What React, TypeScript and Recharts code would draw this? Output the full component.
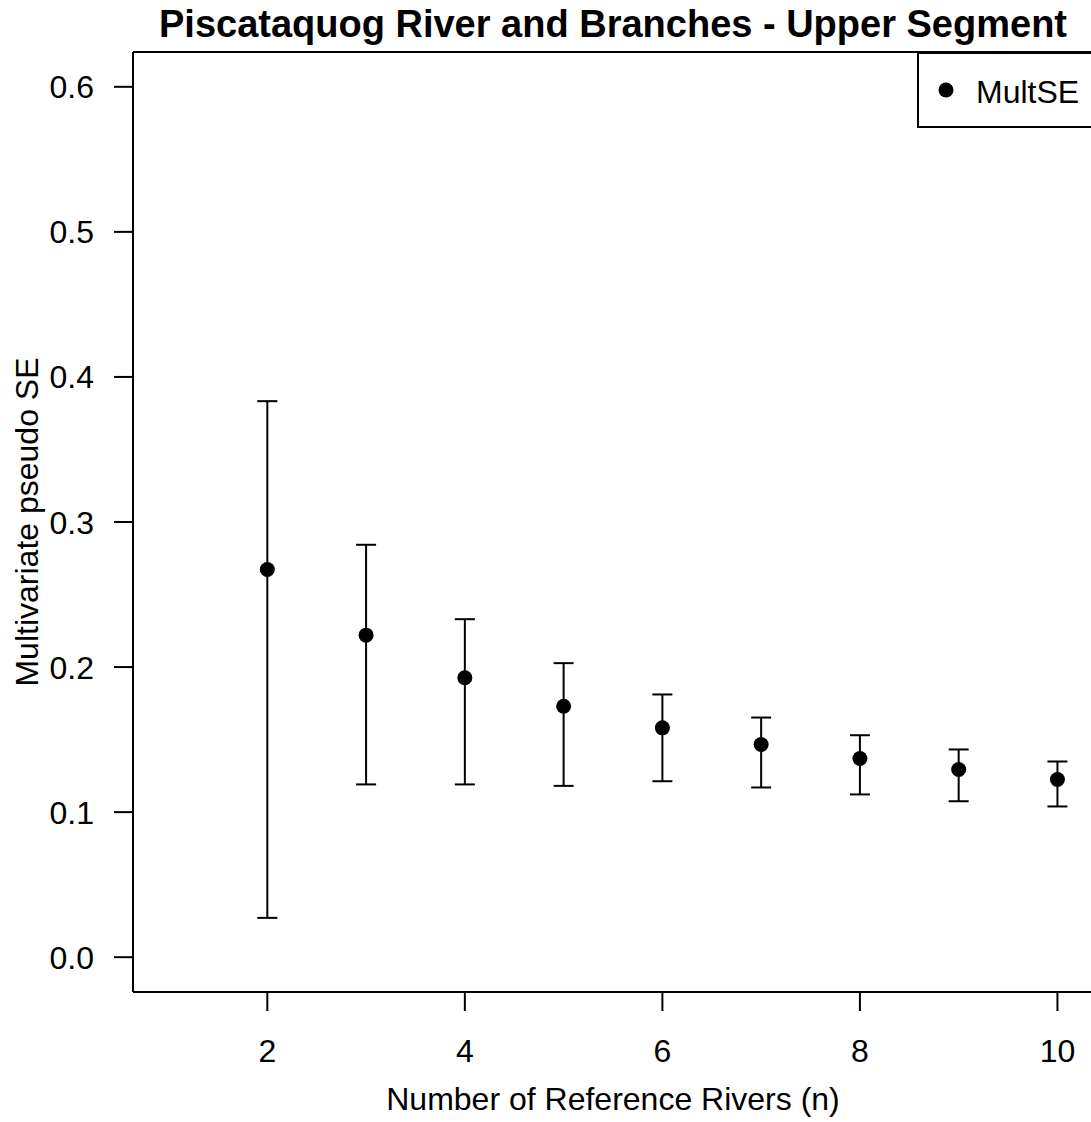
import React from 'react';
import {
  ComposedChart,
  Scatter,
  ErrorBar,
  XAxis,
  YAxis,
  Legend,
  ReferenceLine,
  Label,
} from 'recharts';

// values
const nRivers = [2, 3, 4, 5, 6, 7, 8, 9, 10];
const meanSE = [0.2673, 0.222, 0.1926, 0.173, 0.1581, 0.1466, 0.137, 0.1294, 0.1225];
const lowerSE = [0.0271, 0.1191, 0.1191, 0.1181, 0.1213, 0.117, 0.1122, 0.1075, 0.1039];
const upperSE = [0.3833, 0.2843, 0.233, 0.2027, 0.1811, 0.1652, 0.153, 0.1432, 0.1349];

const xTicks = [2, 4, 6, 8, 10];
const yTicks = [0, 0.1, 0.2, 0.3, 0.4, 0.5, 0.6];

const TITLE = 'Piscataquog River and Branches - Upper Segment';
const X_LABEL = 'Number of Reference Rivers (n)';
const Y_LABEL = 'Multivariate pseudo SE';
const SERIES_NAME = 'MultSE';

// R-style 4% padding around data range
const X_DOMAIN = [0.64, 10.36];
const Y_DOMAIN = [-0.024, 0.624];

const FONT = '"Liberation Sans", Arial, Helvetica, sans-serif';
const BLACK = '#000000';

const data = nRivers.map((n, i) => ({
  n,
  se: meanSE[i],
  err: [meanSE[i] - lowerSE[i], upperSE[i] - meanSE[i]],
}));

const XTick = (props: any) => {
  const { x, y, payload } = props;
  return (
    <text x={x} y={y + 51} textAnchor="middle" fontSize={32} fontFamily={FONT} fill={BLACK}>
      {payload.value}
    </text>
  );
};

const YTick = (props: any) => {
  const { x, y, payload } = props;
  return (
    <text x={x - 20} y={y + 11.5} textAnchor="end" fontSize={32} fontFamily={FONT} fill={BLACK}>
      {Number(payload.value).toFixed(1)}
    </text>
  );
};

const Dot = (props: any) => {
  const { cx, cy } = props;
  return <circle cx={cx} cy={cy} r={7.5} fill={BLACK} />;
};

const LegendBox = () => (
  <div
    style={{
      position: 'relative',
      width: 176,
      height: 76,
      boxSizing: 'border-box',
      border: `2px solid ${BLACK}`,
      background: '#fff',
    }}
  >
    <svg width={176} height={76} style={{ position: 'absolute', left: -2, top: -2 }}>
      <circle cx={29} cy={38} r={7.5} fill={BLACK} />
      <text x={59} y={51} fontSize={32} fontFamily={FONT} fill={BLACK}>
        {SERIES_NAME}
      </text>
    </svg>
  </div>
);

export default function App() {
  return (
    <div
      style={{
        position: 'absolute',
        left: 0,
        top: 0,
        width: 1091,
        height: 1122,
        overflow: 'hidden',
        background: '#fff',
      }}
    >
      <div
        style={{
          position: 'absolute',
          left: 133,
          top: 5,
          width: 960,
          textAlign: 'center',
          fontFamily: FONT,
          fontWeight: 'bold',
          fontSize: 38,
          lineHeight: '38px',
          color: BLACK,
          whiteSpace: 'nowrap',
        }}
      >
        {TITLE}
      </div>
      <ComposedChart
        width={1093}
        height={1122}
        data={data}
        margin={{ top: 52, right: 0, bottom: 0, left: 0 }}
      >
        <XAxis
          type="number"
          dataKey="n"
          domain={X_DOMAIN}
          ticks={xTicks}
          allowDataOverflow
          height={130}
          tickSize={19}
          tickMargin={0}
          tick={<XTick />}
          axisLine={{ stroke: BLACK, strokeWidth: 2 }}
          tickLine={{ stroke: BLACK, strokeWidth: 2 }}
        >
          <Label
            content={(p: any) => {
              const vb = p.viewBox;
              return (
                <text
                  x={vb.x + vb.width / 2}
                  y={vb.y + 118}
                  textAnchor="middle"
                  fontSize={32}
                  fontFamily={FONT}
                  fill={BLACK}
                >
                  {X_LABEL}
                </text>
              );
            }}
          />
        </XAxis>
        <YAxis
          type="number"
          domain={Y_DOMAIN}
          ticks={yTicks}
          allowDataOverflow
          width={133}
          tickSize={19}
          tickMargin={0}
          tick={<YTick />}
          axisLine={{ stroke: BLACK, strokeWidth: 2 }}
          tickLine={{ stroke: BLACK, strokeWidth: 2 }}
        >
          <Label
            content={(p: any) => {
              const vb = p.viewBox;
              const cy = vb.y + vb.height / 2;
              return (
                <text
                  x={38}
                  y={cy}
                  textAnchor="middle"
                  transform={`rotate(-90, 38, ${cy})`}
                  fontSize={32}
                  fontFamily={FONT}
                  fill={BLACK}
                >
                  {Y_LABEL}
                </text>
              );
            }}
          />
        </YAxis>
        {/* top and right sides of the plot box */}
        <ReferenceLine y={Y_DOMAIN[1]} stroke={BLACK} strokeWidth={2} />
        <ReferenceLine x={X_DOMAIN[1]} stroke={BLACK} strokeWidth={2} />
        <Scatter
          name={SERIES_NAME}
          dataKey="se"
          fill={BLACK}
          shape={<Dot />}
          isAnimationActive={false}
        >
          <ErrorBar
            dataKey="err"
            direction="y"
            width={10}
            stroke={BLACK}
            strokeWidth={2}
            isAnimationActive={false}
          />
        </Scatter>
        <Legend
          layout="horizontal"
          verticalAlign="middle"
          align="center"
          content={<LegendBox />}
          wrapperStyle={{ left: 917, top: 52, width: 176, height: 76, margin: 0 }}
        />
      </ComposedChart>
    </div>
  );
}
